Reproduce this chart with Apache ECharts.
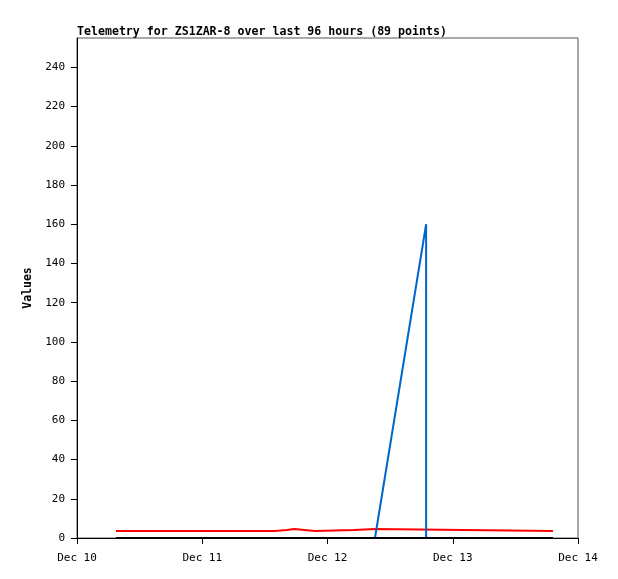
<!DOCTYPE html>
<html>
<head>
<meta charset="utf-8">
<script src="https://cdn.jsdelivr.net/npm/echarts@6/dist/echarts.min.js"></script>
<style>
  html, body { margin: 0; padding: 0; background: #fff; }
  #chart { width: 618px; height: 579px; }
</style>
</head>
<body>
<div id="chart"></div>
<script>
// hours since Dec 10 00:00; values change in steps, so each change is a pair of points
const dayLabels = ["Dec 10", "Dec 11", "Dec 12", "Dec 13", "Dec 14"]
const redHours = [7.47, 37.9, 37.9, 40.2, 40.2, 41.6, 41.6, 45.6, 45.6, 53.1, 53.1, 57.1, 57.1, 91.2]
const redValues = [3.57, 3.57, 4.08, 4.08, 4.59, 4.59, 3.57, 3.57, 4.08, 4.08, 4.59, 4.59, 3.57, 3.57]
const blueHours = [7.47, 57.1, 66.9, 66.9, 91.2]
const blueValues = [0, 0, 160, 0, 0]
const blackHours = [7.47, 91.2]
const blackValues = [0, 0]

const font = "DejaVu Sans Mono"

function pairs(xs, ys) {
  return xs.map((x, i) => [x, ys[i]])
}

const myChart = echarts.init(document.getElementById("chart"))

const option = {
  animation: false,
  title: {
    text: "Telemetry for ZS1ZAR-8 over last 96 hours (89 points)",
    left: 77,
    top: 26,
    padding: 0,
    textStyle: {
      fontFamily: font,
      fontSize: 11.6,
      fontWeight: "bold",
      color: "#000"
    }
  },
  grid: {
    left: 77,
    right: 40,
    top: 38,
    bottom: 41,
    show: true,
    borderColor: "#555",
    borderWidth: 1
  },
  xAxis: {
    type: "value",
    min: 0,
    max: 96,
    interval: 24,
    axisLine: { lineStyle: { color: "#000", width: 1 } },
    axisTick: { length: 6, lineStyle: { color: "#000" } },
    splitLine: { show: false },
    axisLabel: {
      margin: 15,
      fontFamily: font,
      fontSize: 11,
      color: "#000",
      formatter: v => dayLabels[Math.round(v / 24)]
    }
  },
  yAxis: {
    type: "value",
    min: 0,
    max: 255,
    interval: 20,
    name: "Values",
    nameLocation: "middle",
    nameRotate: 90,
    nameGap: 32,
    nameTextStyle: {
      fontFamily: font,
      fontSize: 11.5,
      fontWeight: "bold",
      color: "#000"
    },
    axisLine: { show: true, lineStyle: { color: "#000", width: 1 } },
    axisTick: { length: 6, lineStyle: { color: "#000" } },
    splitLine: { show: false },
    axisLabel: {
      margin: 12,
      fontFamily: font,
      fontSize: 11,
      color: "#000",
      showMaxLabel: false
    }
  },
  series: [
    {
      name: "red",
      type: "line",
      showSymbol: false,
      lineStyle: { color: "#ff0000", width: 2 },
      data: pairs(redHours, redValues)
    },
    {
      name: "blue",
      type: "line",
      showSymbol: false,
      lineStyle: { color: "#0066cc", width: 2 },
      data: pairs(blueHours, blueValues)
    },
    {
      name: "black",
      type: "line",
      showSymbol: false,
      lineStyle: { color: "#000", width: 2 },
      data: pairs(blackHours, blackValues)
    }
  ]
}
myChart.setOption(option, true)
</script>
</body>
</html>
